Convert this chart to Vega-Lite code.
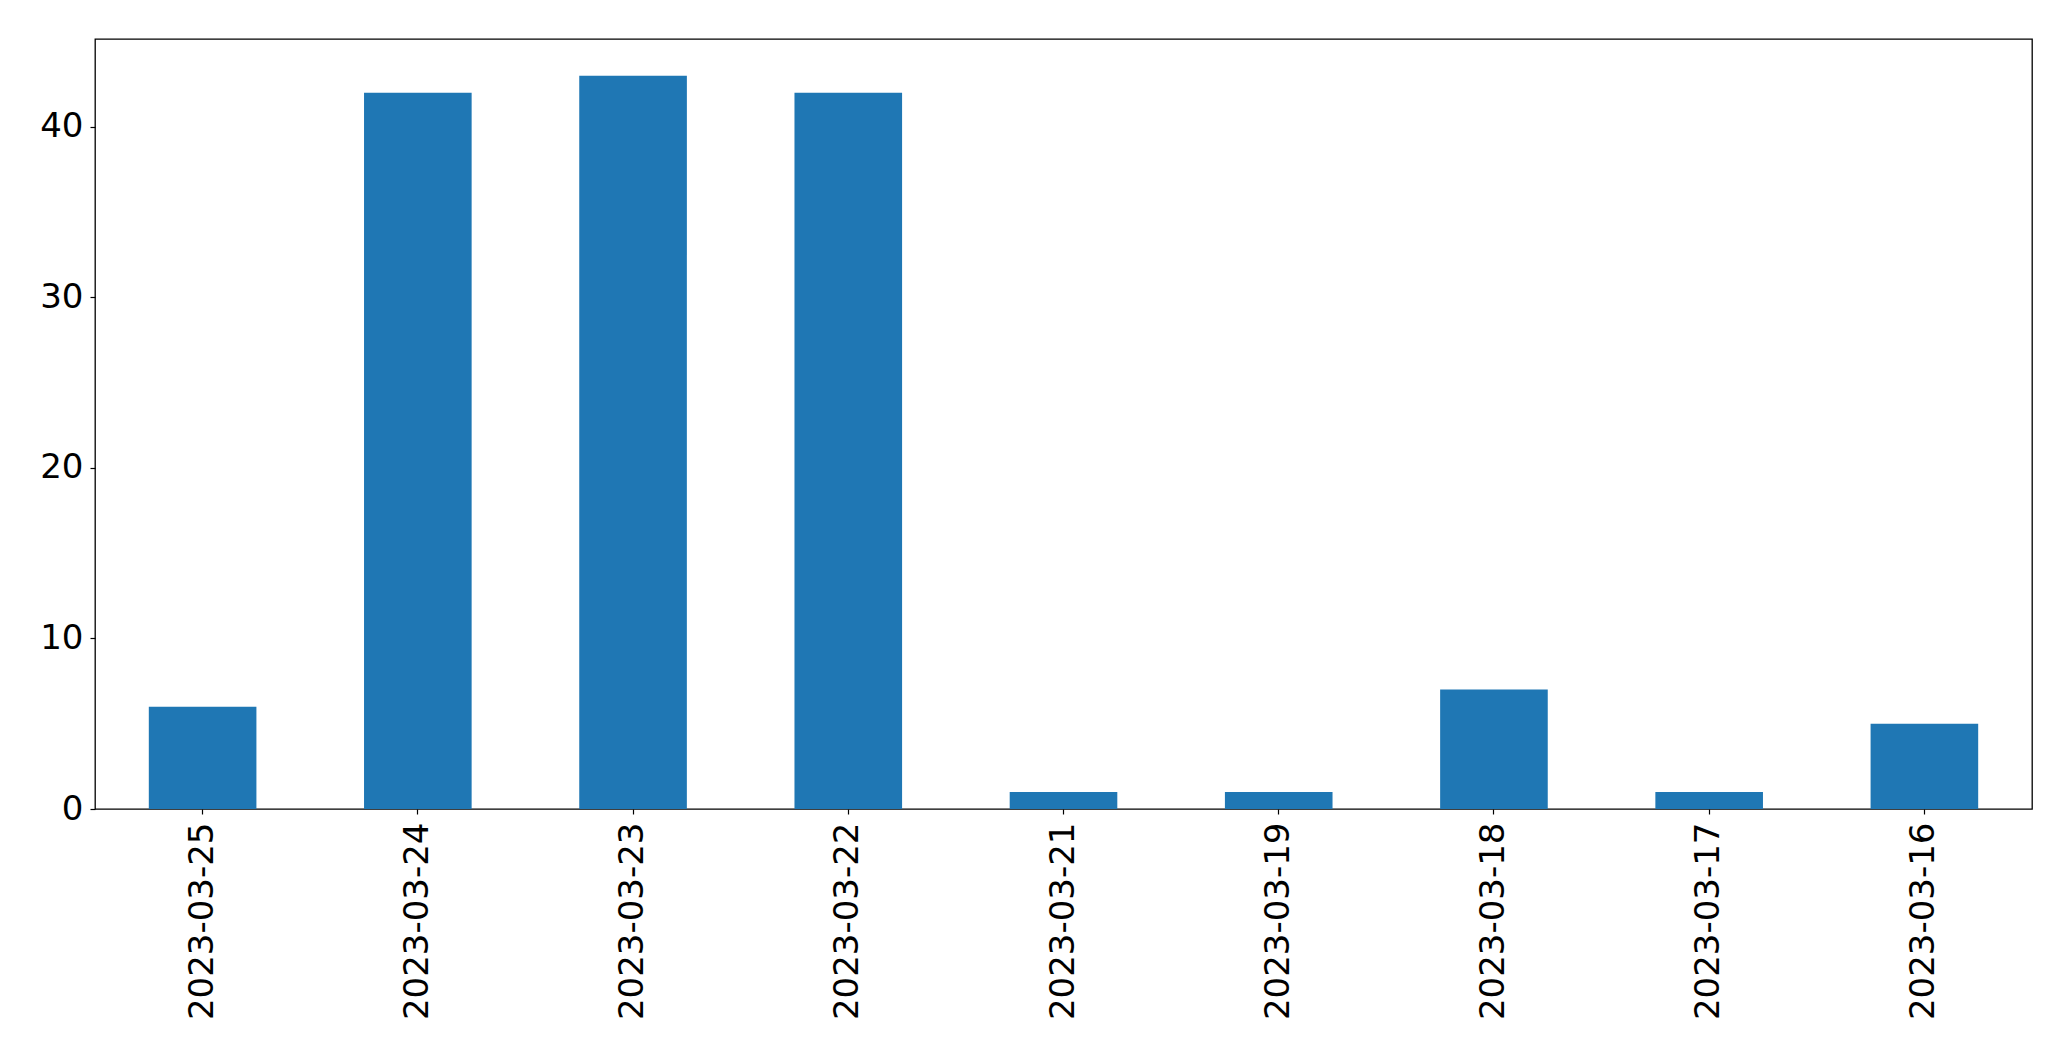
{
  "$schema": "https://vega.github.io/schema/vega-lite/v6.json",
  "autosize": {"type": "none"},
  "padding": {"left": 95, "top": 39, "right": 39, "bottom": 252},
  "width": 1937,
  "height": 770,
  "background": "white",
  "data": {
    "values": [
      {"date": "2023-03-25", "count": 6},
      {"date": "2023-03-24", "count": 42},
      {"date": "2023-03-23", "count": 43},
      {"date": "2023-03-22", "count": 42},
      {"date": "2023-03-21", "count": 1},
      {"date": "2023-03-19", "count": 1},
      {"date": "2023-03-18", "count": 7},
      {"date": "2023-03-17", "count": 1},
      {"date": "2023-03-16", "count": 5}
    ]
  },
  "mark": {"type": "bar", "color": "#1f77b4"},
  "encoding": {
    "x": {
      "field": "date",
      "type": "nominal",
      "sort": null,
      "scale": {"paddingInner": 0.5, "paddingOuter": 0.25},
      "axis": {
        "title": null,
        "labelAngle": -90,
        "labelAlign": "right",
        "labelBaseline": "middle",
        "labelFont": "DejaVu Sans",
        "labelFontSize": 34,
        "labelColor": "black",
        "labelPadding": 8,
        "labelLimit": 0,
        "tickColor": "black",
        "tickSize": 5,
        "tickWidth": 1.2,
        "domain": false,
        "grid": false
      }
    },
    "y": {
      "field": "count",
      "type": "quantitative",
      "scale": {"domain": [0, 45.15], "nice": false, "zero": true},
      "axis": {
        "title": null,
        "values": [0, 10, 20, 30, 40],
        "labelFont": "DejaVu Sans",
        "labelFontSize": 34,
        "labelColor": "black",
        "labelPadding": 7,
        "labelBaseline": "middle",
        "tickColor": "black",
        "tickSize": 5,
        "tickWidth": 1.2,
        "domain": false,
        "grid": false
      }
    }
  },
  "config": {
    "view": {"stroke": "black", "strokeWidth": 1.3}
  }
}
